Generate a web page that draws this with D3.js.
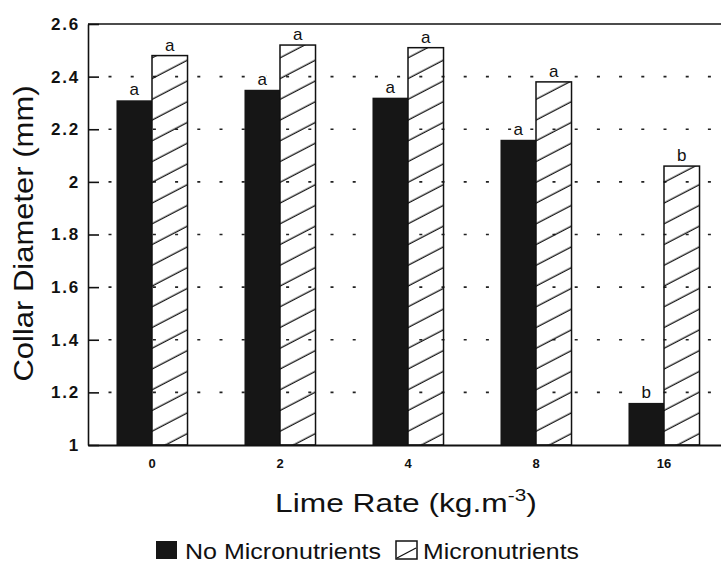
<!DOCTYPE html>
<html>
<head>
<meta charset="utf-8">
<script src="https://cdn.jsdelivr.net/npm/d3@7"></script>
<style>
  html, body { margin: 0; padding: 0; background: #fff; }
  svg { display: block; }
  text { font-family: "Liberation Sans", Arial, sans-serif; fill: #111; }
</style>
</head>
<body>
<svg id="chart" width="721" height="566"></svg>
<script>
// ---- data ----
const categories = ["0", "2", "4", "8", "16"];
const noMicroValues = [2.31, 2.35, 2.32, 2.16, 1.16];
const microValues = [2.48, 2.52, 2.51, 2.38, 2.06];
const noMicroLetters = ["a", "a", "a", "a", "b"];
const microLetters = ["a", "a", "a", "a", "b"];
const seriesNames = ["No Micronutrients", "Micronutrients"];
const yTickValues = [1, 1.2, 1.4, 1.6, 1.8, 2, 2.2, 2.4, 2.6];
const yTickLabels = ["1", "1.2", "1.4", "1.6", "1.8", "2", "2.2", "2.4", "2.6"];
const yTitle = "Collar Diameter (mm)";
const xTitle = "Lime Rate (kg.m";
const xTitleSup = "-3";

// ---- layout ----
const plotLeft = 88, plotRight = 728, plotTop = 24, plotBottom = 445;
const svg = d3.select("#chart");

const defs = svg.append("defs");
defs.append("pattern")
  .attr("id", "hatch")
  .attr("patternUnits", "userSpaceOnUse")
  .attr("width", 10).attr("height", 18.4)
  .attr("patternTransform", "translate(0,4) rotate(-27.5)")
  .append("line")
  .attr("x1", -1).attr("x2", 11).attr("y1", 9).attr("y2", 9)
  .attr("stroke", "#111").attr("stroke-width", 1.3);

const x = d3.scaleBand().domain(categories).range([plotLeft, plotRight]).paddingInner(0.445).paddingOuter(0.2225);
const xs = d3.scaleBand().domain([0, 1]).range([0, x.bandwidth()]);
const y = d3.scaleLinear().domain([1, 2.6]).range([plotBottom, plotTop]);

// grid (dotted)
svg.append("g").selectAll("line")
  .data(yTickValues.filter(v => v > 1 && v < 2.6))
  .join("line")
  .attr("x1", plotLeft + 20.5).attr("x2", plotRight)
  .attr("y1", d => y(d)).attr("y2", d => y(d))
  .attr("stroke", "#222").attr("stroke-width", 1.6)
  .attr("stroke-dasharray", "3,19.2");

// bars
const groups = svg.append("g").selectAll("g")
  .data(categories)
  .join("g")
  .attr("transform", d => `translate(${x(d)},0)`);

groups.append("rect")
  .attr("x", xs(0)).attr("width", xs.bandwidth())
  .attr("y", (d, i) => y(noMicroValues[i]))
  .attr("height", (d, i) => y(1) - y(noMicroValues[i]))
  .attr("fill", "#161616");

groups.append("rect")
  .attr("x", xs(1)).attr("width", xs.bandwidth())
  .attr("y", (d, i) => y(microValues[i]))
  .attr("height", (d, i) => y(1) - y(microValues[i]))
  .attr("fill", "url(#hatch)")
  .attr("stroke", "#111").attr("stroke-width", 1.5);

function letter(sel) {
  sel.attr("text-anchor", "middle").attr("font-size", 17)
    .attr("stroke", "#fff").attr("stroke-width", 4).attr("paint-order", "stroke")
    .attr("stroke-linejoin", "round");
}
groups.append("text")
  .attr("x", xs(0) + xs.bandwidth() / 2)
  .attr("y", (d, i) => y(noMicroValues[i]) - 5)
  .call(letter)
  .text((d, i) => noMicroLetters[i]);

groups.append("text")
  .attr("x", xs(1) + xs.bandwidth() / 2)
  .attr("y", (d, i) => y(microValues[i]) - 5)
  .call(letter)
  .text((d, i) => microLetters[i]);

// y axis
const yAxis = svg.append("g")
  .attr("transform", `translate(${plotLeft},0)`)
  .call(d3.axisLeft(y).tickValues(yTickValues)
    .tickFormat((d, i) => yTickLabels[i])
    .tickSizeInner(-11).tickSizeOuter(0).tickPadding(8));
yAxis.select(".domain").attr("stroke", "#111").attr("stroke-width", 1.6);
yAxis.selectAll(".tick line").attr("stroke", "#111").attr("stroke-width", 1.6);
yAxis.selectAll(".tick text")
  .attr("font-size", 17).attr("font-weight", "bold")
  .attr("letter-spacing", 1.8).attr("fill", "#111")
  .style("font-family", "'Liberation Sans', Arial, sans-serif");

// x axis
const xAxis = svg.append("g")
  .attr("transform", `translate(0,${plotBottom})`)
  .call(d3.axisBottom(x).tickSize(0).tickPadding(14));
xAxis.select(".domain").attr("stroke", "#111").attr("stroke-width", 2);
xAxis.selectAll(".tick text")
  .attr("font-size", 13).attr("font-weight", "bold").attr("fill", "#111")
  .style("font-family", "'Liberation Sans', Arial, sans-serif");

// top border
svg.append("line")
  .attr("x1", plotLeft).attr("x2", plotRight).attr("y1", y(2.6)).attr("y2", y(2.6))
  .attr("stroke", "#111").attr("stroke-width", 1.6);

// y title
svg.append("text")
  .attr("transform", `translate(33,${(85 + 382) / 2}) rotate(-90)`)
  .attr("text-anchor", "middle")
  .attr("font-size", 28)
  .attr("textLength", 296).attr("lengthAdjust", "spacingAndGlyphs")
  .text(yTitle);

// x title (stretched horizontally to the reference's wide face)
const xtG = svg.append("g");
const xt = xtG.append("text").attr("x", 0).attr("y", 0).attr("font-size", 26);
xt.append("tspan").text(xTitle);
xt.append("tspan").attr("font-size", 17).attr("dy", -11).text(xTitleSup);
xt.append("tspan").attr("dy", 11).text(")");
const xtw = xt.node().getBBox().width;
xtG.attr("transform", `translate(275,512) scale(${262 / xtw},1)`);

// legend
const lg = svg.append("g");
lg.append("rect").attr("x", 156).attr("y", 541).attr("width", 21).attr("height", 18).attr("fill", "#161616");
lg.append("text").attr("x", 185).attr("y", 559).attr("font-size", 22)
  .attr("textLength", 196).attr("lengthAdjust", "spacingAndGlyphs").text(seriesNames[0]);
lg.append("rect").attr("x", 396).attr("y", 541).attr("width", 21).attr("height", 18)
  .attr("fill", "#fff").attr("stroke", "#111").attr("stroke-width", 1.5);
lg.append("line").attr("x1", 397).attr("y1", 558).attr("x2", 416).attr("y2", 548)
  .attr("stroke", "#111").attr("stroke-width", 1.3);
lg.append("text").attr("x", 423).attr("y", 559).attr("font-size", 22)
  .attr("textLength", 156).attr("lengthAdjust", "spacingAndGlyphs").text(seriesNames[1]);
</script>
</body>
</html>
